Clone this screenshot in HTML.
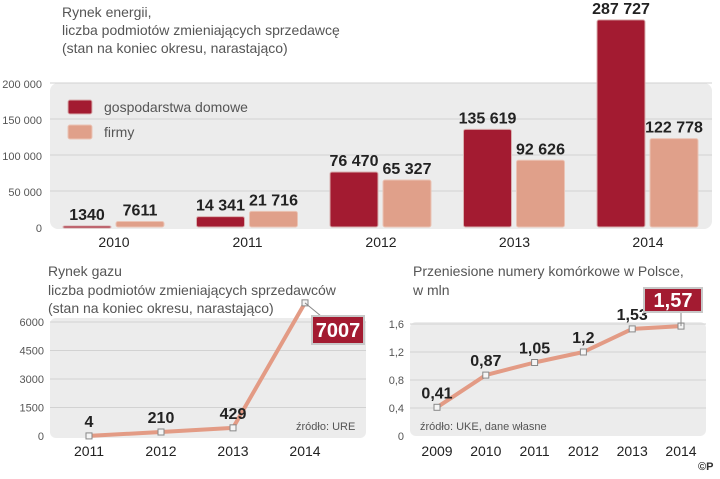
<!DOCTYPE html>
<html><head><meta charset="utf-8"><style>
body{margin:0;background:#fff;width:720px;height:474px;overflow:hidden;font-family:"Liberation Sans",sans-serif}
svg text{font-family:"Liberation Sans",sans-serif}
</style></head><body>
<svg id="c" width="720" height="474">
<g fill="#555" font-size="14">
<text x="62" y="17">Rynek energii,</text>
<text x="62" y="35">liczba podmiotów zmieniających sprzedawcę</text>
<text x="62" y="53">(stan na koniec okresu, narastająco)</text>
</g>
<rect x="50" y="83" width="662" height="146" rx="8" fill="#ececec"/>
<g id="top"></g>
<g>
<rect x="68" y="100" width="24" height="14" rx="2" fill="#a31b31" stroke="#d9b0b0"/>
<text x="104" y="112" font-size="14" fill="#555">gospodarstwa domowe</text>
<rect x="68" y="125" width="24" height="14" rx="2" fill="#e0a08a" stroke="#eac4b6"/>
<text x="104" y="137" font-size="14" fill="#555">firmy</text>
</g>
<g fill="#555" font-size="14">
<text x="48" y="276">Rynek gazu</text>
<text x="48" y="295">liczba podmiotów zmieniających sprzedawców</text>
<text x="48" y="313">(stan na koniec okresu, narastająco)</text>
</g>
<rect x="50" y="318" width="316" height="120" rx="6" fill="#ececec"/>
<g id="gas"></g>
<text x="296" y="430" font-size="11" fill="#555">źródło: URE</text>
<g fill="#555" font-size="14">
<text x="413" y="276">Przeniesione numery komórkowe w Polsce,</text>
<text x="413" y="295">w mln</text>
</g>
<rect x="410" y="322" width="296" height="114" rx="6" fill="#ececec"/>
<g id="mob"></g>
<text x="420" y="430" font-size="11" fill="#555">źródło: UKE, dane własne</text>
<text x="698" y="470" font-size="11" font-weight="bold" fill="#333">©P</text>
</svg>
<script>
const topYears=["2010","2011","2012","2013","2014"];
const households=[1340,14341,76470,135619,287727];
const companies=[7611,21716,65327,92626,122778];
const topLabelsH=["1340","14 341","76 470","135 619","287 727"];
const topLabelsC=["7611","21 716","65 327","92 626","122 778"];
const topTicks=[0,50000,100000,150000,200000];
const topTickLabels=["0","50 000","100 000","150 000","200 000"];
const gasYears=["2011","2012","2013","2014"];
const gasVals=[4,210,429,7007];
const gasLabels=["4","210","429","7007"];
const gasTicks=[0,1500,3000,4500,6000];
const mobYears=["2009","2010","2011","2012","2013","2014"];
const mobVals=[0.41,0.87,1.05,1.2,1.53,1.57];
const mobLabels=["0,41","0,87","1,05","1,2","1,53","1,57"];
const mobTicks=[0,0.4,0.8,1.2,1.6];
const mobTickLabels=["0","0,4","0,8","1,2","1,6"];
const NS="http://www.w3.org/2000/svg";
function mk(p,t,a,txt){const e=document.createElementNS(NS,t);for(const k in a)e.setAttribute(k,a[k]);if(txt!==undefined)e.textContent=txt;p.appendChild(e);return e;}
// top
const T=document.getElementById('top');
const ty=v=>227-v*144/200000, tx=i=>63+i*133.5;
topTicks.forEach((t,i)=>{
 if(i>0){const l=mk(T,'line',{x1:50,x2:712,y1:ty(t),y2:ty(t),stroke:'#d2d2d2'});}
 const e=mk(T,'text',{x:42,y:ty(t)+5,'text-anchor':'end','font-size':11,fill:'#555'},topTickLabels[i]);
 
});
topYears.forEach((y,i)=>{
 const x=tx(i);
 const b1=mk(T,'rect',{x:x,y:ty(households[i]),width:48,height:Math.max(227-ty(households[i]),2),rx:2,fill:'#a31b31',stroke:'#d9b0b0'});
 
 const b2=mk(T,'rect',{x:x+53,y:ty(companies[i]),width:48,height:Math.max(227-ty(companies[i]),2),rx:2,fill:'#e0a08a',stroke:'#eac4b6'});
 
 const l1=mk(T,'text',{x:x+24,y:ty(households[i])-6,'text-anchor':'middle','font-size':16,'font-weight':'bold',fill:'#222'},topLabelsH[i]);
 
 const l2=mk(T,'text',{x:x+77,y:ty(companies[i])-6,'text-anchor':'middle','font-size':16,'font-weight':'bold',fill:'#222'},topLabelsC[i]);
 
 const xl=mk(T,'text',{x:x+51,y:247,'text-anchor':'middle','font-size':14,fill:'#222'},y);
 
});
function lineChart(G,years,vals,labels,ticks,tlabels,yf,xf,x0,x1,name){
 ticks.forEach((t,i)=>{
  if(i>0){const l=mk(G,'line',{x1:x0,x2:x1,y1:yf(t),y2:yf(t),stroke:'#d2d2d2'});}
  const e=mk(G,'text',{x:x0-6,y:yf(t)+4,'text-anchor':'end','font-size':11,fill:'#555'},tlabels[i]);
  
 });
 const pl=mk(G,'polyline',{points:vals.map((v,i)=>xf(i)+','+yf(v)).join(' '),fill:'none',stroke:'#e39b85','stroke-width':4,'stroke-linejoin':'round'});
 
 const n=vals.length;
 vals.forEach((v,i)=>{
  const p=mk(G,'rect',{x:xf(i)-3,y:yf(v)-3,width:6,height:6,fill:'#f5f5f5',stroke:'#888','stroke-width':1});
  
  const xl=mk(G,'text',{x:xf(i),y:456,'text-anchor':'middle','font-size':14,fill:'#222'},years[i]);
  
  if(i<n-1){
   const l=mk(G,'text',{x:xf(i),y:yf(v)-9,'text-anchor':'middle','font-size':16,'font-weight':'bold',fill:'#222'},labels[i]);
   
  }
 });
}
const G=document.getElementById('gas');
const gy=v=>436-v*19/1000, gx=i=>89+i*72;
lineChart(G,gasYears,gasVals,gasLabels,gasTicks,gasTicks.map(String),gy,gx,50,366,'gas');
{const i=3,v=gasVals[3];
 mk(G,'line',{x1:gx(i),y1:gy(v),x2:338,y2:330,stroke:'#888'});
 const r=mk(G,'rect',{x:312,y:316,width:52,height:28,fill:'#a31b31',stroke:'#c8c8c8','stroke-width':2});
 
 const t=mk(G,'text',{x:338,y:337,'text-anchor':'middle','font-size':20,'font-weight':'bold',fill:'#fff'},gasLabels[i]);
 }
const M=document.getElementById('mob');
const my=v=>436-v*70, mx=i=>437+i*48.8;
lineChart(M,mobYears,mobVals,mobLabels,mobTicks,mobTickLabels,my,mx,410,706,'mobile');
{const i=5,v=mobVals[5];
 mk(M,'line',{x1:mx(i),y1:my(v),x2:mx(i),y2:311,stroke:'#888'});
 const r=mk(M,'rect',{x:644,y:288,width:58,height:24,fill:'#a31b31',stroke:'#c8c8c8','stroke-width':2});
 
 const t=mk(M,'text',{x:673,y:307,'text-anchor':'middle','font-size':20,'font-weight':'bold',fill:'#fff'},mobLabels[i]);
 }
</script>
</body></html>
